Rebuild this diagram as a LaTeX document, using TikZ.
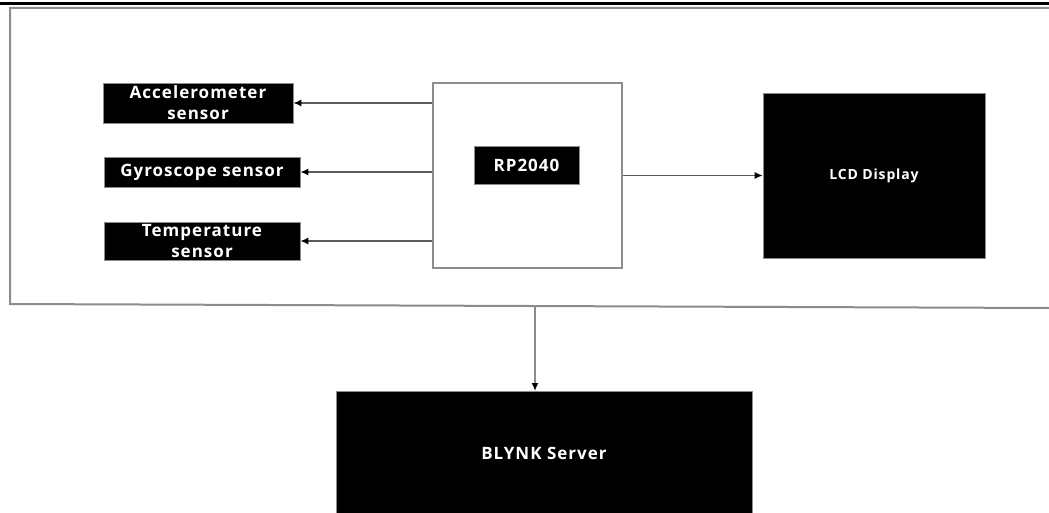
\documentclass[tikz,border=0pt]{standalone}
\usepackage{fontspec}
\setmainfont{Open Sans}[LetterSpace=6]
\usetikzlibrary{arrows.meta}
\definecolor{framegray}{RGB}{140,140,140}
\definecolor{linegray}{RGB}{90,90,90}
\tikzset{
  blk/.style={draw=framegray, line width=0.8pt, fill=black, text=white, font=\bfseries, inner sep=0pt, align=center},
  conn/.style={draw=linegray, line width=1.2pt, -{Latex[length=8pt,width=7pt,color=black]}},
}
\begin{document}
\begin{tikzpicture}[x=1pt,y=-1pt]
\useasboundingbox (0,0) rectangle (1049,513);
% top rule
\draw[line width=3pt] (0,4) -- (1049,4);
% outer frame
\draw[framegray, line width=2pt] (1049,8) -- (10,8) -- (10,304) -- (1049,308);
\coordinate (fb) at (535,306);
% sensors
\node[blk, minimum width=190pt, minimum height=40pt, font=\bfseries\fontsize{17}{21}\selectfont] (acc) at (198,103) {Accelerometer\\sensor};
\node[blk, minimum width=196pt, minimum height=30pt, font=\bfseries\fontsize{17}{21}\selectfont] (gyr) at (202,172) {Gyroscope sensor};
\node[blk, minimum width=196pt, minimum height=38pt, font=\bfseries\fontsize{17}{21}\selectfont] (tmp) at (202,241) {Temperature\\sensor};
% RP2040 container
\node[draw=framegray, line width=1.5pt, fill=white, minimum width=189pt, minimum height=185pt] (rp) at (527.5,175.5) {};
\node[blk, minimum width=105pt, minimum height=38pt, font=\bfseries\fontsize{17}{17}\selectfont] (chip) at (526.5,165) {RP2040};
% LCD
\node[blk, minimum width=222pt, minimum height=165pt, font=\bfseries\fontsize{14}{14}\selectfont] (lcd) at (874,175.5) {LCD Display};
% BLYNK
\node[blk, minimum width=416pt, minimum height=160pt, anchor=north] (blynk) at (544,391) {};
\node[text=white, font=\bfseries\fontsize{17}{17}\selectfont] (blynkt) at (544,453) {BLYNK Server};
% connectors
\draw[conn] (rp.west |- acc.east) -- (acc.east);
\draw[conn] (rp.west |- gyr.east) -- (gyr.east);
\draw[conn] (rp.west |- tmp.east) -- (tmp.east);
\draw[conn] (rp.east |- lcd.west) -- (lcd.west);
\draw[conn, draw=framegray, line width=2pt] (fb) -- (fb |- blynk.north);
\end{tikzpicture}
\end{document}
